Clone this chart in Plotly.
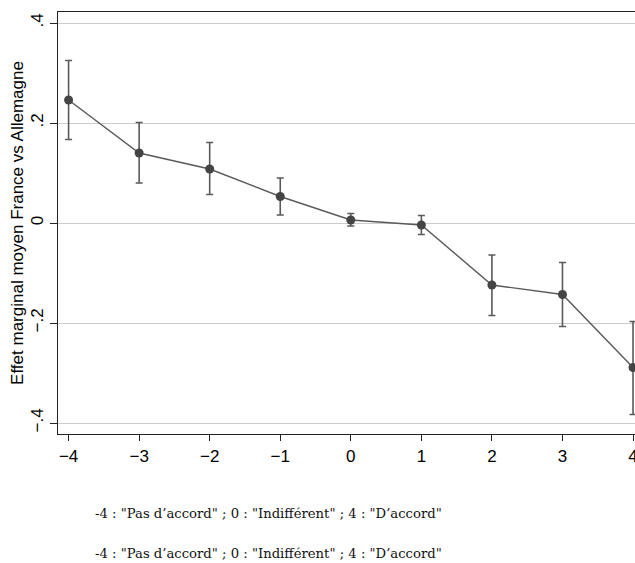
import plotly.graph_objects as go

x_vals = [-4, -3, -2, -1, 0, 1, 2, 3, 4]
effet = [0.246, 0.140, 0.108, 0.053, 0.006, -0.004, -0.124, -0.143, -0.289]
ci_high = [0.325, 0.201, 0.161, 0.090, 0.019, 0.015, -0.064, -0.079, -0.197]
ci_low = [0.167, 0.080, 0.057, 0.016, -0.006, -0.023, -0.185, -0.207, -0.383]

y_tickvals = [-0.4, -0.2, 0, 0.2, 0.4]
y_ticktext = ["\u2212.4", "\u2212.2", "0", ".2", ".4"]
x_ticktext = ["\u22124", "\u22123", "\u22122", "\u22121", "0", "1", "2", "3", "4"]

note = "-4 : \"Pas d\u2019accord\" ; 0 : \"Indiff\u00e9rent\" ; 4 : \"D\u2019accord\""

err_plus = [h - v for h, v in zip(ci_high, effet)]
err_minus = [v - l for v, l in zip(effet, ci_low)]

fig = go.Figure()
fig.add_trace(go.Scatter(
    x=x_vals, y=effet, mode="lines+markers",
    line=dict(color="#5a5a5a", width=1.4),
    marker=dict(color="#444444", size=9),
    error_y=dict(type="data", array=err_plus, arrayminus=err_minus,
                 color="#5a5a5a", thickness=1.6, width=3.5),
    showlegend=False,
))

fig.update_layout(
    width=635, height=563,
    margin=dict(l=58, r=0, t=12, b=129),
    paper_bgcolor="white", plot_bgcolor="white",
    font=dict(family="Liberation Sans, Arial, sans-serif", color="black", size=17),
    xaxis=dict(
        range=[-4.15, 4.028], tickvals=x_vals, ticktext=x_ticktext,
        showgrid=False, zeroline=False, automargin=False,
        showline=True, linecolor="#222222", linewidth=1.3, mirror=True,
        ticks="outside", ticklen=6, tickcolor="#222222", tickwidth=1.2,
        tickfont=dict(size=17), ticklabeloverflow="allow",
    ),
    yaxis=dict(
        range=[-0.422, 0.422], tickvals=y_tickvals, ticktext=y_ticktext,
        tickangle=-90,
        showgrid=True, gridcolor="#cccccc", gridwidth=1.2, zeroline=False,
        showline=True, linecolor="#222222", linewidth=1.3,
        ticks="outside", ticklen=7, tickcolor="#222222", tickwidth=1.2,
        tickfont=dict(size=17),
        title=dict(text="Effet marginal moyen France vs Allemagne",
                   font=dict(size=17), standoff=0),
    ),
)

for yy in [515.7, 556.7]:
    fig.add_annotation(
        text=note, xref="paper", yref="paper",
        x=(268 - 58) / 577, y=(563 - 129 - yy) / 434,
        xanchor="center", yanchor="middle", showarrow=False,
        font=dict(family="DejaVu Serif, Liberation Serif, serif", size=13.2, color="#111111"),
    )

fig.write_html(
    "out.html",
    config={"displayModeBar": False},
    post_script="document.body.style.margin='0';document.body.style.overflow='hidden';",
)
